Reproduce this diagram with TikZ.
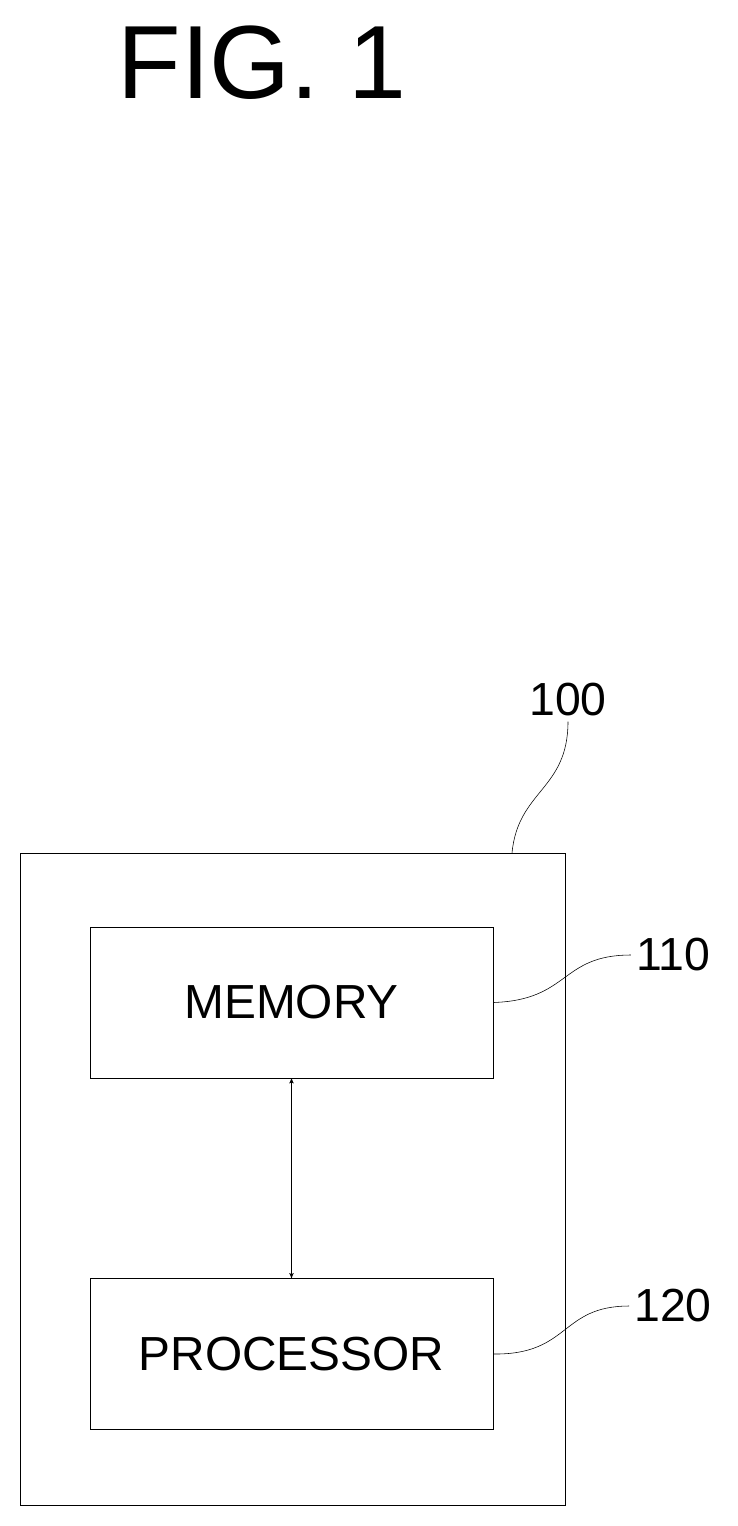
\documentclass[tikz,border=0pt]{standalone}
\usepackage{fontspec}
\setmainfont{Liberation Sans}
\usetikzlibrary{arrows,positioning,calc}

\begin{document}
\begin{tikzpicture}[x=0.025cm, y=-0.025cm, >=stealth', semithick]
\tikzstyle{block}=[draw=black, thin, minimum width=403*0.025cm, minimum height=151*0.025cm, font=\fontsize{34}{34}\selectfont]
\tikzstyle{ref}=[font=\fontsize{33}{33}\selectfont]
\tikzstyle{lead}=[thin]
\useasboundingbox (0,0) rectangle (737,1526);
\node[font=\fontsize{74}{74}\selectfont] (fig) at (262,63) {FIG. 1};
\draw[thin] (20,853) rectangle (565,1505);
\coordinate (box) at (512,853);
\node[block] (mem) at (291.5,1002.5) {MEMORY};
\node[block] (proc) at (291.5,1354) {PROCESSOR};
\draw[<->, thin] (mem.south) -- (proc.north);
\node[ref] (r100) at (568,700) {100};
\node[ref] (r110) at (673,955) {110};
\node[ref] (r120) at (673,1306) {120};
\draw[lead] (box) .. controls (518,790) and (568,790) .. (r100.south);
\draw[lead] (mem.east) .. controls (570,1000) and (560,955) .. (r110.west);
\draw[lead] (proc.east) .. controls (570,1355) and (560,1306) .. (r120.west);
\end{tikzpicture}
\end{document}
